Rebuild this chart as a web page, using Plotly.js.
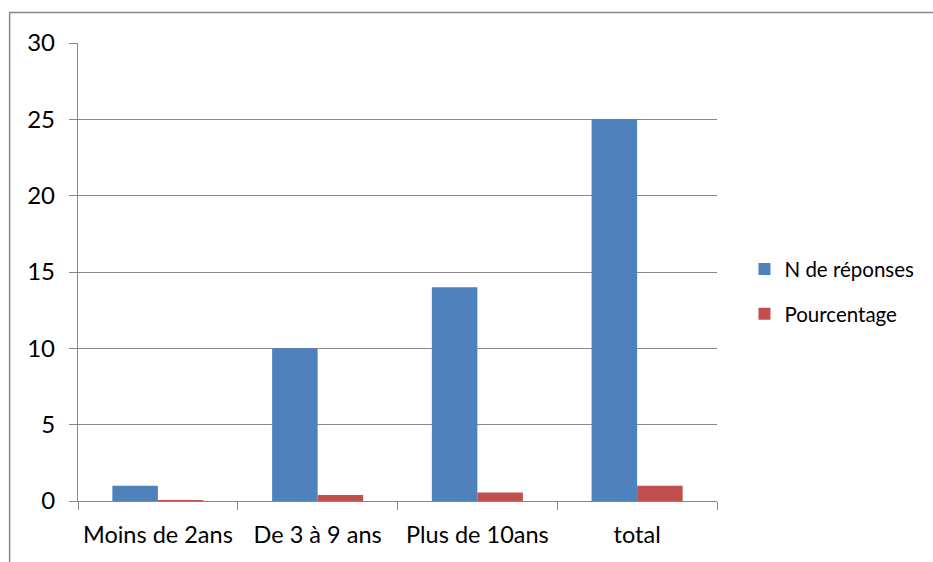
<!DOCTYPE html>
<html><head><meta charset="utf-8">
<script src="https://cdn.plot.ly/plotly-3.0.1.min.js"></script>
<style>html,body{margin:0;padding:0;background:#fff}#c{width:933px;height:562px}</style>
</head><body><div id="c"></div>
<script>
const categories = ["Moins de 2ans", "De 3 à 9 ans", "Plus de 10ans", "total"];
const reponses = [1, 10, 14, 25];
const pourcentage = [0.04, 0.4, 0.56, 1];
const yTicks = [0, 5, 10, 15, 20, 25, 30];
const FONT = "Lato";

const data = [
  {type: "bar", name: "N de réponses", legendgroup: "a", x: categories, y: reponses, marker: {color: "#4F81BD"}},
  {type: "bar", name: "Pourcentage", legendgroup: "b", x: categories, y: pourcentage, marker: {color: "#C0504D"}}
];
const layout = {
  width: 933, height: 562,
  margin: {l: 78, r: 216, t: 43, b: 61, autoexpand: false},
  paper_bgcolor: "#fff", plot_bgcolor: "#fff",
  font: {family: FONT, size: 20, color: "#000"},
  barmode: "group", bargap: 0.43, bargroupgap: 0,
  showlegend: true,
  legend: {x: 1.043, y: 0.457, xanchor: "left", yanchor: "middle", tracegroupgap: 15,
           font: {family: FONT, size: 20.5}, itemwidth: 30},
  xaxis: {showline: true, linecolor: "#878787", linewidth: 1.3, ticks: "outside", tickson: "boundaries",
          ticklen: 8, tickcolor: "#878787", tickwidth: 1.3, showgrid: false, ticklabelstandoff: 13,
          tickangle: 0, tickfont: {family: FONT, size: 23.5}},
  yaxis: {range: [0, 30], tickvals: yTicks, showline: true, linecolor: "#878787", linewidth: 1.3,
          ticks: "outside", ticklen: 8, tickcolor: "#878787", tickwidth: 1.3,
          showgrid: true, gridcolor: "#878787", gridwidth: 1.3, zeroline: false,
          ticklabelstandoff: 9, tickfont: {family: FONT, size: 24}},
  shapes: [{type: "rect", xref: "paper", yref: "paper", x0: -0.107, x1: 1.6, y0: -0.5, y1: 1.0666,
            line: {color: "#898989", width: 1.5}, fillcolor: "rgba(0,0,0,0)", layer: "above"}]
};
Plotly.newPlot("c", data, layout, {displayModeBar: false});
</script></body></html>
